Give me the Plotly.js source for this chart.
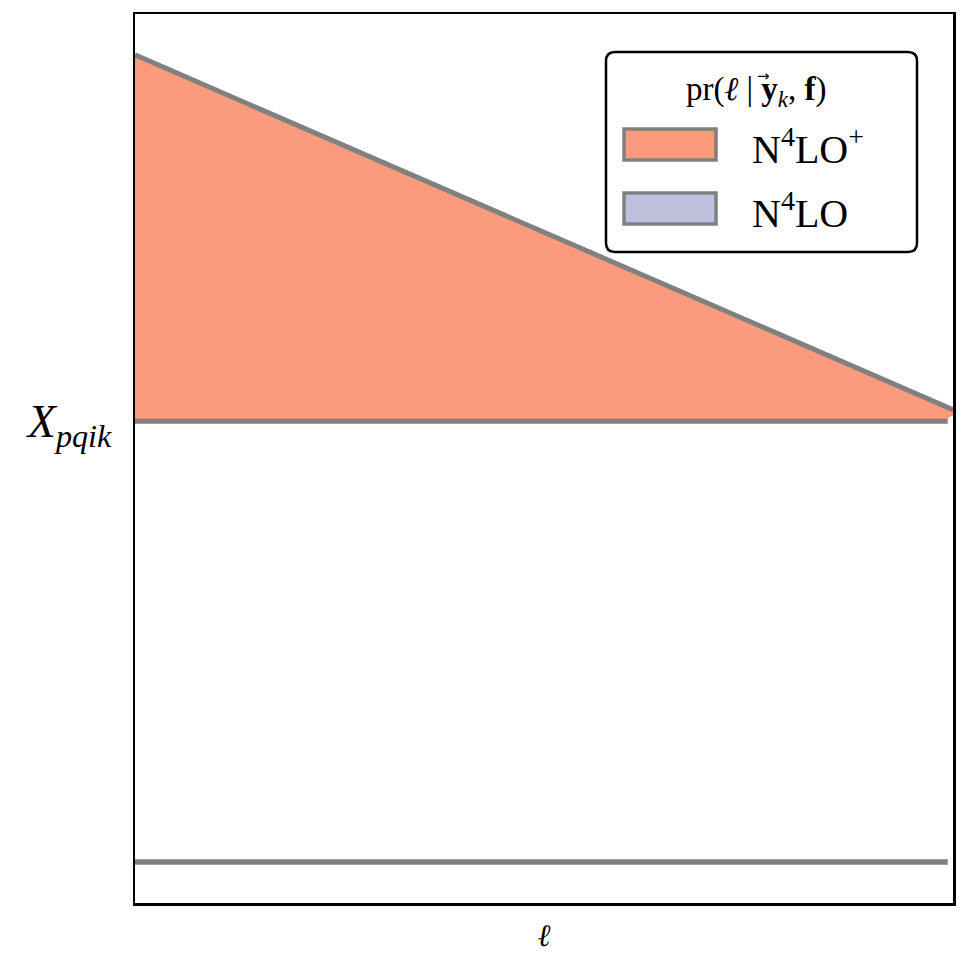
<!DOCTYPE html>
<html>
<head>
<meta charset="utf-8">
<script src="https://cdn.plot.ly/plotly-3.0.1.min.js"></script>
<style>html,body{margin:0;padding:0;background:#fff;}#chart{width:968px;height:968px;}</style>
</head>
<body>
<div id="chart"></div>
<script>
// ---- data ----
var ellGrid = [0, 1];
var seriesNames = ['N<sup>4</sup>LO<sup>+</sup>', 'N<sup>4</sup>LO'];
var n4loPlusBase = [0.542, 0.542];
var n4loPlusTop = [0.954, 0.555];
var n4loBase = [0.046, 0.046];
var n4loTop = [0.046, 0.046];
var endMarkersY = [0.542, 0.046];
var yTickVals = [0.542];
var yTickText = ['<i>X</i><sub><i>pqik</i></sub>'];
var legendTitle = 'pr(<i>ℓ</i> | <b>y</b><sub><i>k</i></sub>, <b>f</b>)';

var gray = 'rgb(128,128,128)';
var salmon = 'rgb(251,155,124)';
var lavender = 'rgb(191,192,221)';

var traces = [
  {x: ellGrid, y: n4loPlusBase, mode: 'lines', line: {color: gray, width: 5}, showlegend: false, hoverinfo: 'skip'},
  {x: ellGrid, y: n4loPlusTop, mode: 'lines', fill: 'tonexty', fillcolor: salmon, line: {color: gray, width: 5}, name: seriesNames[0], showlegend: false},
  {x: ellGrid, y: n4loBase, mode: 'lines', line: {color: gray, width: 5}, showlegend: false, hoverinfo: 'skip'},
  {x: ellGrid, y: n4loTop, mode: 'lines', fill: 'tonexty', fillcolor: lavender, line: {color: gray, width: 5}, name: seriesNames[1], showlegend: false},
  {x: [ellGrid[1], ellGrid[1]], y: endMarkersY, mode: 'markers', marker: {color: 'white', size: 11}, showlegend: false, hoverinfo: 'skip'}
];

// legend box geometry (data units of the fixed 0..1 axes)
var W = 818, H = 889;
function px(v){return v / W;}
function py(v){return v / H;}
var bx0 = px(606-135), bx1 = px(917-135), by1 = py(903-52), by0 = py(903-252);
var rx = px(9), ry = py(9);
var boxPath = 'M ' + (bx0+rx) + ' ' + by1 +
  ' L ' + (bx1-rx) + ' ' + by1 + ' Q ' + bx1 + ' ' + by1 + ' ' + bx1 + ' ' + (by1-ry) +
  ' L ' + bx1 + ' ' + (by0+ry) + ' Q ' + bx1 + ' ' + by0 + ' ' + (bx1-rx) + ' ' + by0 +
  ' L ' + (bx0+rx) + ' ' + by0 + ' Q ' + bx0 + ' ' + by0 + ' ' + bx0 + ' ' + (by0+ry) +
  ' L ' + bx0 + ' ' + (by1-ry) + ' Q ' + bx0 + ' ' + by1 + ' ' + (bx0+rx) + ' ' + by1 + ' Z';

var shapes = [
  {type: 'path', xref: 'x', yref: 'y', path: boxPath, fillcolor: 'white', line: {color: 'black', width: 2.5}, layer: 'above'},
  {type: 'rect', xref: 'x', yref: 'y', x0: px(624-135), x1: px(716-135), y0: py(903-160), y1: py(903-129), fillcolor: salmon, line: {color: gray, width: 3.5}, layer: 'above'},
  {type: 'rect', xref: 'x', yref: 'y', x0: px(624-135), x1: px(716-135), y0: py(903-224), y1: py(903-193), fillcolor: lavender, line: {color: gray, width: 3.5}, layer: 'above'}
];

var serif = 'Liberation Serif, DejaVu Serif, serif';
var annotations = [
  {xref: 'x', yref: 'y', x: px(756-135), y: py(903-91), text: legendTitle, showarrow: false, font: {family: serif, size: 33, color: 'black'}, xanchor: 'center', yanchor: 'middle'},
  {xref: 'x', yref: 'y', x: px(763-135), y: py(903-76), text: '→', showarrow: false, font: {family: 'DejaVu Sans, sans-serif', size: 15, color: 'black'}, xanchor: 'center', yanchor: 'middle'},
  {xref: 'x', yref: 'y', x: px(750-135), y: py(903-146), text: seriesNames[0], showarrow: false, font: {family: serif, size: 40, color: 'black'}, xanchor: 'left', yanchor: 'middle'},
  {xref: 'x', yref: 'y', x: px(750-135), y: py(903-210), text: seriesNames[1], showarrow: false, font: {family: serif, size: 40, color: 'black'}, xanchor: 'left', yanchor: 'middle'}
];

var layout = {
  width: 968, height: 968,
  margin: {l: 135, r: 15, t: 14, b: 65},
  paper_bgcolor: 'white', plot_bgcolor: 'white',
  showlegend: false,
  xaxis: {range: [0, 1], showgrid: false, zeroline: false, showticklabels: false, ticks: '',
    showline: true, mirror: true, linecolor: 'black', linewidth: 2.5,
    title: {text: '<i>ℓ</i>', font: {family: serif, size: 31, color: 'black'}, standoff: 20}},
  yaxis: {range: [0, 1], showgrid: false, zeroline: false, ticks: '',
    tickvals: yTickVals, ticktext: yTickText, tickfont: {family: serif, size: 46, color: 'black'},
    ticklabelstandoff: 12,
    showline: true, mirror: true, linecolor: 'black', linewidth: 2.5},
  shapes: shapes,
  annotations: annotations
};

Plotly.newPlot('chart', traces, layout, {displayModeBar: false, staticPlot: true});
</script>
</body>
</html>
